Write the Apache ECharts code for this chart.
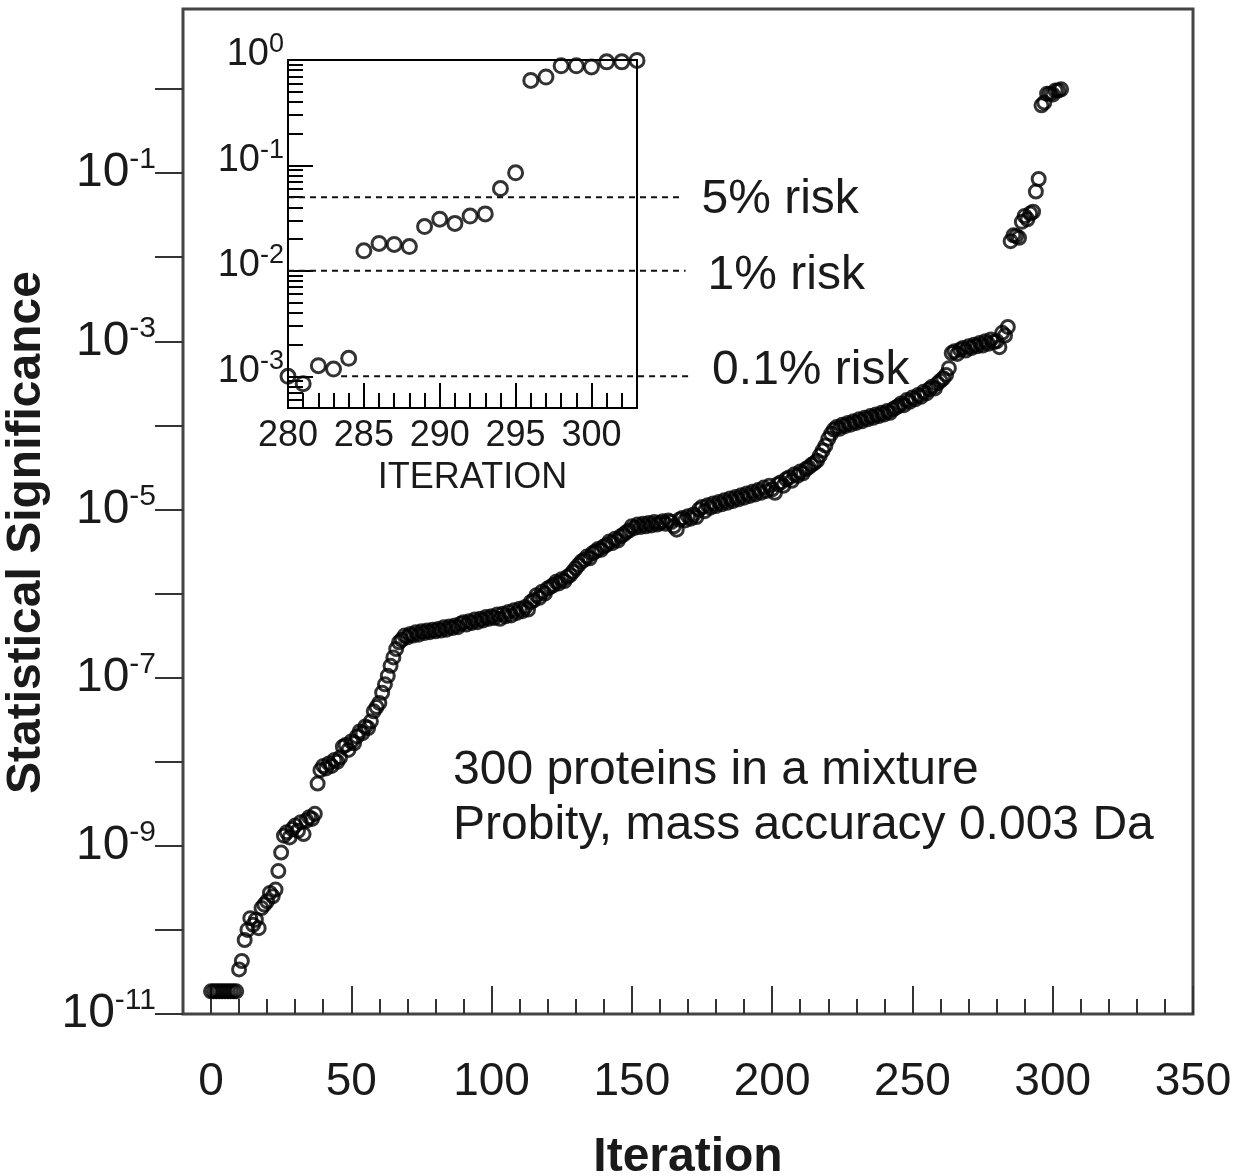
<!DOCTYPE html>
<html>
<head>
<meta charset="utf-8">
<script src="https://cdn.jsdelivr.net/npm/echarts@6/dist/echarts.min.js"></script>
<style>
html,body{margin:0;padding:0;background:#fff}
#c{width:1238px;height:1176px}
</style>
</head>
<body>
<div id="c"></div>
<script>
// ---------------- DATA ----------------
const mainFirstIteration = 0;
const mainSignificance = [
  1.86e-11,1.86e-11,1.86e-11,1.86e-11,1.86e-11,1.86e-11,1.86e-11,1.86e-11,1.86e-11,1.86e-11,
  3.39e-11,4.27e-11,7.59e-11,1.0e-10,1.38e-10,1.15e-10,1.32e-10,1.05e-10,1.82e-10,2.0e-10,
  2.19e-10,2.75e-10,2.51e-10,3.02e-10,5.01e-10,8.32e-10,1.32e-9,1.45e-9,1.26e-9,1.58e-9,
  1.74e-9,1.51e-9,1.91e-9,1.38e-9,2.0e-9,2.19e-9,2.09e-9,2.40e-9,5.50e-9,7.94e-9,
  8.91e-9,8.32e-9,9.55e-9,8.91e-9,1.05e-8,1.0e-8,1.12e-8,1.51e-8,1.58e-8,1.38e-8,
  1.74e-8,1.66e-8,2.0e-8,2.29e-8,2.19e-8,2.63e-8,2.51e-8,3.02e-8,3.98e-8,4.47e-8,
  5.01e-8,6.61e-8,8.32e-8,1.05e-7,1.38e-7,1.74e-7,2.19e-7,2.63e-7,2.82e-7,3.16e-7,
  3.02e-7,3.31e-7,3.16e-7,3.47e-7,3.24e-7,3.55e-7,3.39e-7,3.63e-7,3.47e-7,3.72e-7,
  3.55e-7,3.80e-7,3.63e-7,3.98e-7,3.72e-7,4.07e-7,3.89e-7,4.17e-7,3.98e-7,4.37e-7,
  4.57e-7,4.27e-7,4.68e-7,4.47e-7,4.90e-7,4.57e-7,5.01e-7,4.79e-7,5.25e-7,5.01e-7,
  5.37e-7,5.13e-7,5.62e-7,5.01e-7,5.75e-7,5.37e-7,6.03e-7,5.50e-7,6.31e-7,5.89e-7,
  6.61e-7,6.17e-7,6.92e-7,6.46e-7,7.94e-7,8.32e-7,9.55e-7,8.91e-7,1.05e-6,1.0e-6,
  1.15e-6,1.20e-6,1.26e-6,1.38e-6,1.32e-6,1.48e-6,1.41e-6,1.58e-6,1.66e-6,1.82e-6,
  2.0e-6,2.19e-6,2.40e-6,2.51e-6,2.75e-6,2.63e-6,3.02e-6,3.16e-6,3.39e-6,3.31e-6,
  3.63e-6,3.80e-6,4.17e-6,3.98e-6,4.47e-6,4.27e-6,4.79e-6,5.01e-6,5.37e-6,5.62e-6,
  6.31e-6,6.03e-6,6.61e-6,6.17e-6,6.76e-6,6.31e-6,6.92e-6,6.46e-6,7.08e-6,6.61e-6,
  6.92e-6,7.24e-6,6.76e-6,7.41e-6,7.08e-6,6.31e-6,5.75e-6,7.59e-6,7.94e-6,7.41e-6,
  8.32e-6,7.76e-6,8.71e-6,8.13e-6,1.0e-5,1.07e-5,9.55e-6,1.12e-5,1.05e-5,1.18e-5,
  1.10e-5,1.23e-5,1.15e-5,1.29e-5,1.20e-5,1.35e-5,1.26e-5,1.41e-5,1.32e-5,1.48e-5,
  1.38e-5,1.55e-5,1.45e-5,1.62e-5,1.51e-5,1.70e-5,1.58e-5,1.82e-5,1.66e-5,1.91e-5,
  1.74e-5,1.58e-5,2.0e-5,2.09e-5,1.91e-5,2.29e-5,2.40e-5,2.19e-5,2.63e-5,2.51e-5,
  2.82e-5,2.69e-5,3.02e-5,3.16e-5,3.39e-5,3.55e-5,3.80e-5,4.37e-5,5.01e-5,5.75e-5,
  6.92e-5,7.94e-5,8.91e-5,9.55e-5,9.12e-5,1.02e-4,9.77e-5,1.07e-4,1.02e-4,1.12e-4,
  1.07e-4,1.18e-4,1.12e-4,1.23e-4,1.18e-4,1.29e-4,1.23e-4,1.35e-4,1.29e-4,1.41e-4,
  1.35e-4,1.48e-4,1.41e-4,1.55e-4,1.62e-4,1.70e-4,1.82e-4,1.74e-4,2.0e-4,1.91e-4,
  2.14e-4,2.04e-4,2.29e-4,2.19e-4,2.51e-4,2.40e-4,2.69e-4,2.88e-4,2.75e-4,3.16e-4,
  3.39e-4,3.63e-4,3.98e-4,4.79e-4,7.24e-4,7.59e-4,7.08e-4,7.94e-4,8.32e-4,7.76e-4,
  8.71e-4,8.32e-4,9.12e-4,8.71e-4,9.55e-4,8.91e-4,1.0e-3,9.33e-4,1.05e-3,9.77e-4,
  1.0e-3,8.5e-4,1.26e-3,1.17e-3,1.48e-3,1.55e-2,1.82e-2,1.78e-2,1.70e-2,2.63e-2,
  3.09e-2,2.82e-2,3.31e-2,3.47e-2,6.03e-2,8.51e-2,0.64,0.69,0.88,0.88,
  0.86,0.96,0.96,0.99
];
const insetIterationRange = [280, 303];
const mainYLabelExponents = [-1, -3, -5, -7, -9, -11];
const insetYLabelExponents = [0, -1, -2, -3];
const insetYMinorMantissas = [2, 3, 4, 5, 6, 7, 8, 9];
const riskLevels = [0.05, 0.01, 0.001];
const riskLabels = ['5% risk', '1% risk', '0.1% risk'];
const annotationLines = ['300 proteins in a mixture', 'Probity, mass accuracy 0.003 Da'];

// ---------------- LAYOUT / STYLE ----------------
const FONT = '"Liberation Sans", Arial, Helvetica, sans-serif';
const INK = '#1a1a1a';
const insetYMin = 5e-4;
const inset = { left: 288, top: 60, width: 349, height: 348 };
const riskAreaWidth = 402;  // dashed guide lines run past the inset box
const riskXMax = insetIterationRange[0] +
  riskAreaWidth * (insetIterationRange[1] - insetIterationRange[0]) / inset.width;
const riskLineExtent = [[280, 305.8], [280, 306.2], [283.5, 306.5]];
const riskLabelOffset = [[0, 3], [0, 5], [0, -5]];
const circleStyle = { color: 'rgba(0,0,0,0)', borderColor: '#000', borderWidth: 3 };

const mainData = mainSignificance.map((v, i) => [mainFirstIteration + i, v]);
const insetData = mainData.filter(d => d[0] >= insetIterationRange[0] && d[0] <= insetIterationRange[1]);

const insetYMinLog = Math.log10(insetYMin);
const insetMinorTicks = [];
for (let k = -4; k <= -1; k++) {
  for (const m of insetYMinorMantissas) {
    const t = Math.log10(m) + k;
    if (t > insetYMinLog && t < 0) insetMinorTicks.push(t);
  }
}

const chart = echarts.init(document.getElementById('c'), null, { renderer: 'canvas' });

const hiddenAxisParts = {
  axisLine: { show: false, onZero: false }, axisTick: { show: false },
  axisLabel: { show: false }, splitLine: { show: false }
};

const option = {
  animation: false,
  backgroundColor: '#fff',
  grid: [
    { left: 211, right: 45, top: 89, bottom: 162, show: false, outerBoundsMode: 'none', containLabel: false },
    { left: inset.left, top: inset.top, width: inset.width, height: inset.height, show: true,
      borderColor: '#000', borderWidth: 2, backgroundColor: '#fff', outerBoundsMode: 'none', containLabel: false },
    { left: 183, right: 45, top: 9, bottom: 162, show: true, borderColor: '#444', borderWidth: 3,
      backgroundColor: 'transparent', outerBoundsMode: 'none', containLabel: false },
    { left: inset.left, top: inset.top, width: riskAreaWidth, height: inset.height, show: false,
      outerBoundsMode: 'none', containLabel: false }
  ],
  xAxis: [
    { gridIndex: 0, type: 'value', position: 'bottom', min: 0, max: 350, interval: 50,
      axisLine: { show: false, onZero: false },
      axisTick: { inside: true, length: 28, lineStyle: { color: '#333', width: 2 } },
      minorTick: { show: true, splitNumber: 5, length: 15, lineStyle: { color: '#333', width: 2 } },
      axisLabel: { fontSize: 46, fontFamily: FONT, color: INK, margin: 45 },
      splitLine: { show: false }, minorSplitLine: { show: false } },
    Object.assign({ gridIndex: 2, type: 'value', position: 'bottom', min: 0, max: 1,
      name: 'Iteration', nameLocation: 'middle', nameGap: 120,
      nameTextStyle: { fontSize: 48, fontWeight: 'bold', fontFamily: FONT, color: INK } }, hiddenAxisParts),
    { gridIndex: 1, type: 'value', position: 'bottom', min: insetIterationRange[0], max: insetIterationRange[1], interval: 1,
      axisLine: { show: false, onZero: false },
      axisTick: { inside: true, length: 15, lineStyle: { color: '#000', width: 2 } },
      axisLabel: { show: false }, splitLine: { show: false } },
    { gridIndex: 1, type: 'value', position: 'bottom', min: insetIterationRange[0], max: insetIterationRange[1], interval: 5,
      axisLine: { show: false, onZero: false },
      axisTick: { inside: true, length: 25, lineStyle: { color: '#000', width: 2 } },
      axisLabel: { fontSize: 36, fontFamily: FONT, color: INK, margin: 10,
        formatter: v => (v % 5 === 0 ? String(v) : '') },
      splitLine: { show: false },
      name: 'ITERATION', nameLocation: 'middle', nameGap: 52,
      nameTextStyle: { fontSize: 36, fontFamily: FONT, color: INK, padding: [0, 0, 0, 20] } },
    Object.assign({ gridIndex: 3, type: 'value', position: 'bottom', min: insetIterationRange[0], max: riskXMax }, hiddenAxisParts)
  ],
  yAxis: [
    { gridIndex: 0, type: 'log', logBase: 10, min: 1e-11, max: 1, interval: 1, offset: 28,
      axisLine: { show: false, onZero: false },
      axisTick: { inside: false, length: 28, lineStyle: { color: '#333', width: 2 } },
      minorTick: { show: false },
      axisLabel: {
        margin: 27, color: INK,
        formatter: v => {
          const e = Math.round(Math.log10(v));
          return mainYLabelExponents.indexOf(e) >= 0 ? '{b|10}{s|' + e + '}' : '';
        },
        rich: {
          b: { fontSize: 48, fontFamily: FONT, color: INK },
          s: { fontSize: 30, fontFamily: FONT, color: INK, padding: [0, 0, 26, 0] }
        }
      },
      splitLine: { show: false },
      name: 'Statistical Significance', nameLocation: 'middle', nameGap: 111,
      nameTextStyle: { fontSize: 48, fontWeight: 'bold', fontFamily: FONT, color: INK, padding: [0, 0, 0, 38] } },
    Object.assign({ gridIndex: 2, type: 'value', min: 0, max: 1 }, hiddenAxisParts),
    Object.assign({ gridIndex: 1, type: 'log', logBase: 10, min: insetYMin, max: 1 }, hiddenAxisParts),
    { gridIndex: 1, type: 'value', position: 'left', min: insetYMinLog, max: 0,
      axisLine: { show: false, onZero: false },
      axisTick: { inside: true, length: 25, customValues: insetYLabelExponents, lineStyle: { color: '#000', width: 2 } },
      axisLabel: {
        customValues: insetYLabelExponents, margin: 4, padding: [0, 0, 10, 0], color: INK,
        formatter: v => '{b|10}{s|' + Math.round(v) + '}',
        rich: {
          b: { fontSize: 38, fontFamily: FONT, color: INK },
          s: { fontSize: 27, fontFamily: FONT, color: INK, padding: [0, 0, 20, 0] }
        }
      },
      splitLine: { show: false } },
    { gridIndex: 1, type: 'value', position: 'left', min: insetYMinLog, max: 0,
      axisLine: { show: false, onZero: false },
      axisTick: { inside: true, length: 15, customValues: insetMinorTicks, lineStyle: { color: '#000', width: 2 } },
      axisLabel: { show: false }, splitLine: { show: false } },
    Object.assign({ gridIndex: 3, type: 'log', logBase: 10, min: insetYMin, max: 1 }, hiddenAxisParts)
  ],
  graphic: annotationLines.map((t, k) => ({
    type: 'text', x: 453, y: 771 + k * 55, silent: true,
    style: { text: t, fontSize: 48, fontFamily: FONT, fill: INK, align: 'left', verticalAlign: 'middle' }
  })),
  series: [
    { type: 'scatter', xAxisIndex: 0, yAxisIndex: 0, data: mainData, symbol: 'circle', symbolSize: 13,
      itemStyle: circleStyle, clip: false, silent: true, z: 3 },
    { type: 'scatter', xAxisIndex: 3, yAxisIndex: 2, data: insetData, symbol: 'circle', symbolSize: 14,
      itemStyle: circleStyle, clip: false, silent: true, z: 3 }
  ].concat(riskLevels.map((lvl, k) => ({
    type: 'line', xAxisIndex: 4, yAxisIndex: 5,
    data: [[riskLineExtent[k][0], lvl], [riskLineExtent[k][1], lvl]],
    symbol: 'none', clip: false, silent: true, z: 2,
    lineStyle: { type: [6, 5], width: 2, color: '#111' },
    endLabel: { show: true, formatter: riskLabels[k], fontSize: 48, fontFamily: FONT, color: INK,
      distance: 22, offset: riskLabelOffset[k] }
  })))
};

chart.setOption(option);
</script>
</body>
</html>
